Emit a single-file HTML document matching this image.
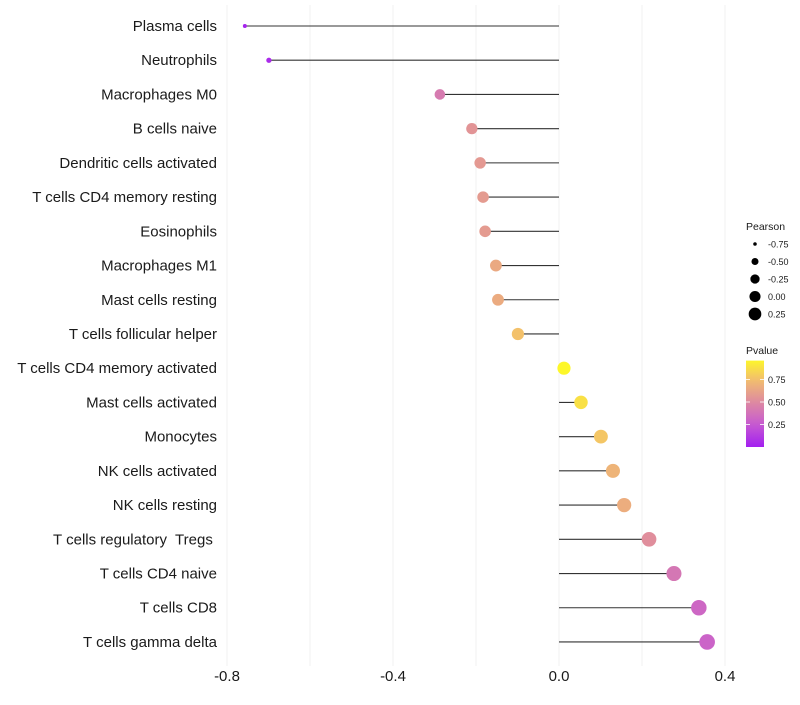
<!DOCTYPE html>
<html><head><meta charset="utf-8"><style>
body{margin:0;background:#fff;font-family:"Liberation Sans",sans-serif}
svg text{font-family:"Liberation Sans",sans-serif;white-space:pre}
</style></head><body>
<svg id="chart" width="800" height="700" xmlns="http://www.w3.org/2000/svg">
<g id="grid"></g>
<g id="marks"></g>
<g id="ylabels"></g>
<g id="xlabels"></g>
<g id="legend-size"></g>
<g id="legend-color"></g>
</svg>
<script>
const categories=["Plasma cells","Neutrophils","Macrophages M0","B cells naive","Dendritic cells activated","T cells CD4 memory resting","Eosinophils","Macrophages M1","Mast cells resting","T cells follicular helper","T cells CD4 memory activated","Mast cells activated","Monocytes","NK cells activated","NK cells resting","T cells regulatory  Tregs ","T cells CD4 naive","T cells CD8","T cells gamma delta"];
const pearson=[-0.757,-0.699,-0.287,-0.21,-0.19,-0.183,-0.178,-0.152,-0.147,-0.099,0.012,0.053,0.101,0.13,0.157,0.217,0.277,0.337,0.357];
const pvalue=[0.02,0.05,0.42,0.55,0.57,0.58,0.58,0.65,0.66,0.76,0.97,0.88,0.78,0.7,0.67,0.52,0.4,0.32,0.3];
const xTicks=[-0.8,-0.4,0.0,0.4];
const xTickLabels=["-0.8","-0.4","0.0","0.4"];
const xGrid=[-0.8,-0.6,-0.4,-0.2,0,0.2,0.4];
const sizeLegendVals=[-0.75,-0.5,-0.25,0,0.25];
const sizeLegendLabels=["-0.75","-0.50","-0.25","0.00","0.25"];
const colorLegendVals=[0.25,0.5,0.75];
const colorLegendLabels=["0.25","0.50","0.75"];

const NS="http://www.w3.org/2000/svg";
const X=v=>559+v*415;
const Y=i=>26+i*34.22;
const pMin=Math.min(...pearson),pMax=Math.max(...pearson);
const R=v=>{const t=Math.max(0,(v-pMin)/(pMax-pMin));return Math.sqrt(2*2+(7.8*7.8-4)*t);};
const stops=[[0,[163,31,240]],[0.25,[198,90,210]],[0.5,[222,138,160]],[0.75,[242,190,110]],[1,[255,255,32]]];
function C(p){p=Math.max(0,Math.min(1,p));for(let i=1;i<stops.length;i++){if(p<=stops[i][0]){const a=stops[i-1],b=stops[i],t=(p-a[0])/(b[0]-a[0]);return 'rgb('+a[1].map((c,k)=>Math.round(c+(b[1][k]-c)*t)).join(',')+')';}}return 'rgb(255,255,32)';}
function mk(tag,attrs,parent){const e=document.createElementNS(NS,tag);for(const k in attrs)e.setAttribute(k,attrs[k]);parent.appendChild(e);return e;}
const grid=document.getElementById('grid'),marks=document.getElementById('marks'),yl=document.getElementById('ylabels'),xl=document.getElementById('xlabels');
xGrid.forEach(v=>{const l=mk('line',{x1:X(v),x2:X(v),y1:5,y2:666,stroke:'#f0f0f0','stroke-width':1},grid);

});
categories.forEach((c,i)=>{
 const y=Y(i);
 const ln=mk('line',{x1:X(0),x2:X(pearson[i]),y1:y,y2:y,stroke:'#333','stroke-width':1.1},marks);
 
 
 const d=mk('circle',{cx:X(pearson[i]),cy:y,r:R(pearson[i]),fill:C(pvalue[i])},marks);
 
 
 const t=mk('text',{x:217,y:y+5,'text-anchor':'end','font-size':15,fill:'#1a1a1a'},yl);t.textContent=c;
 
 
});
xTicks.forEach((v,i)=>{const t=mk('text',{x:X(v),y:681,'text-anchor':'middle','font-size':15,fill:'#1a1a1a'},xl);t.textContent=xTickLabels[i];

});
const ls=document.getElementById('legend-size');
const st=mk('text',{x:746,y:230,'font-size':10.5,fill:'#1a1a1a'},ls);st.textContent='Pearson';


sizeLegendVals.forEach((v,i)=>{const y=244+i*17.5;
 const c=mk('circle',{cx:755,cy:y,r:R(v)*0.85,fill:'#000'},ls);
 
 
 const t=mk('text',{x:768,y:y+3.5,'font-size':9,fill:'#1a1a1a'},ls);t.textContent=sizeLegendLabels[i];
 
 });
const lc=document.getElementById('legend-color');
const ct=mk('text',{x:746,y:354,'font-size':10.5,fill:'#1a1a1a'},lc);ct.textContent='Pvalue';


const defs=mk('defs',{},document.getElementById('chart'));
const g=mk('linearGradient',{id:'pg',x1:0,y1:1,x2:0,y2:0},defs);
const PY=p=>447-p*90;
const lo=0.0,hi=0.96;
for(let k=0;k<=10;k++){const p=lo+(hi-lo)*k/10;mk('stop',{offset:k/10,'stop-color':C(p)},g);}
const bar=mk('rect',{x:746,y:PY(hi),width:18,height:PY(lo)-PY(hi),fill:'url(#pg)'},lc);


colorLegendVals.forEach((v,i)=>{const y=PY(v);
 mk('line',{x1:746,x2:750,y1:y,y2:y,stroke:'#fff','stroke-width':0.8},lc);
 mk('line',{x1:760,x2:764,y1:y,y2:y,stroke:'#fff','stroke-width':0.8},lc);
 const t=mk('text',{x:768,y:y+3.5,'font-size':9,fill:'#1a1a1a'},lc);t.textContent=colorLegendLabels[i];
 
 });
</script>
</body></html>
